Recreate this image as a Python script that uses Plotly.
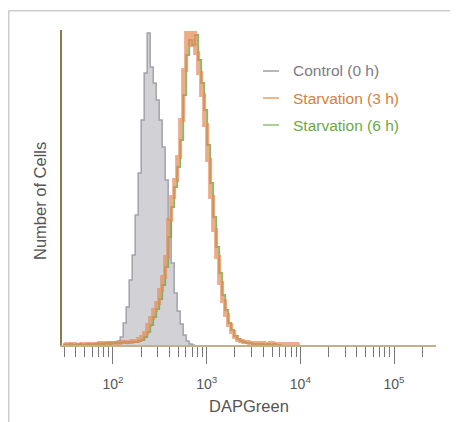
import plotly.graph_objects as go

# Histogram channel grid (log10 DAPGreen intensity): left edge and channel width
BIN_START_LOG = 1.469
BIN_WIDTH_LOG = 0.032

# Cell counts per channel
control_0h = [1, 0, 1, 0, 1, 1, 0, 1, 1, 1, 1, 2, 2, 2, 2, 3, 3, 3, 4, 8,
              22, 38, 65, 90, 130, 172, 225, 272, 312, 278, 262, 245, 225, 198, 165, 125, 82, 52, 34, 21,
              10, 4, 1, 0]

starv_3h = [0, 1, 0, 1, 0, 0, 1, 0, 1, 1, 0, 1, 2, 2, 2, 1, 2, 2, 2, 3,
            3, 3, 3, 4, 4, 6, 8, 12, 20, 27, 35, 42, 55, 68, 88, 125, 148, 165, 188, 225,
            275, 312, 300, 312, 292, 272, 250, 220, 185, 148, 115, 88, 62, 44, 30, 20, 13, 8, 5, 4,
            3, 3, 2, 2, 2, 1, 2, 1, 1, 2, 1, 1, 1, 0, 1, 0, 1, 1, 0]

starv_6h = [0, 0, 1, 0, 0, 1, 0, 0, 1, 0, 1, 1, 1, 1, 2, 1, 2, 2, 2, 2,
            3, 2, 3, 3, 3, 4, 5, 8, 13, 20, 28, 36, 46, 60, 78, 108, 138, 158, 178, 205,
            250, 290, 305, 300, 310, 285, 262, 235, 200, 162, 128, 98, 72, 50, 35, 22, 15, 9, 6, 4,
            3, 2, 2, 1, 1, 1, 1, 0, 1, 0, 1, 0, 0]

series_names = ["Control (0 h)", "Starvation (3 h)", "Starvation (6 h)"]
tick_values = [1e2, 1e3, 1e4, 1e5]
tick_labels = ["10<sup>2</sup>", "10<sup>3</sup>", "10<sup>4</sup>", "10<sup>5</sup>"]

GRAY_LINE = "#a2a2aa"
GRAY_FILL = "#d2d2d6"
ORANGE = "rgba(232,138,88,0.72)"
GREEN = "rgba(112,172,82,0.85)"


def step_xy(counts):
    xs, ys = [], []
    for i, c in enumerate(counts):
        xs.append(10 ** (BIN_START_LOG + i * BIN_WIDTH_LOG))
        ys.append(c)
    xs.append(10 ** (BIN_START_LOG + len(counts) * BIN_WIDTH_LOG))
    ys.append(0)
    return xs, ys


fig = go.Figure()

x, y = step_xy(control_0h)
fig.add_trace(go.Scatter(x=x, y=y, mode="lines", line=dict(shape="hv", color=GRAY_LINE, width=1.5),
                         fill="tozeroy", fillcolor=GRAY_FILL, name=series_names[0], showlegend=False))
x, y = step_xy(starv_6h)
fig.add_trace(go.Scatter(x=x, y=y, mode="lines", line=dict(shape="hv", color=GREEN, width=2),
                         name=series_names[2], showlegend=False))
x, y = step_xy(starv_3h)
fig.add_trace(go.Scatter(x=x, y=y, mode="lines", line=dict(shape="hv", color=ORANGE, width=4),
                         name=series_names[1], showlegend=False))

FONT = "Liberation Sans, Arial, sans-serif"

# the page body adds an 8px offset; lay out in target coordinates and shift
OFF = 8
W, H = 458 - OFF, 422 - OFF
L, R, T, B = 62 - OFF, 22, 30 - OFF, 422 - 345
pw, ph = W - L - R, H - T - B


def px(xp):
    return (xp - OFF - L) / pw


def py(yp):
    return (H - B - (yp - OFF)) / ph


# legend entries: short line + coloured text
leg_colors = ["#7c7c84", "#d4803c", "#6aa846"]
leg_rows = [71, 98, 125]
for name, col, yy in zip(series_names, leg_colors, leg_rows):
    fig.add_shape(type="line", xref="paper", yref="paper", x0=px(263), x1=px(279), y0=py(yy), y1=py(yy),
                  line=dict(color=col, width=1.1))
    fig.add_annotation(xref="paper", yref="paper", x=px(291), y=py(yy), xanchor="left", yanchor="middle",
                       text=name, showarrow=False, font=dict(family=FONT, size=15.5, color=col))

# y-axis title
fig.add_annotation(xref="paper", yref="paper", x=px(40), y=py(201), xanchor="center", yanchor="middle",
                   text="Number of Cells", textangle=-90, showarrow=False,
                   font=dict(family=FONT, size=16.5, color="#555555"))

frame = dict(type="line", xref="paper", yref="paper", line=dict(color="#cccccc", width=1.5))
fig.add_shape(**frame, x0=px(8.75), x1=px(470), y0=py(10.75), y1=py(10.75))
fig.add_shape(**frame, x0=px(8.75), x1=px(8.75), y0=py(10.75), y1=py(440))

fig.update_layout(
    width=W, height=H,
    margin=dict(l=L, r=R, t=T, b=B, autoexpand=False),
    paper_bgcolor="white", plot_bgcolor="white",
    font=dict(family=FONT, color="#555555"),
    showlegend=False,
)
fig.update_xaxes(
    type="log", range=[1.4557, 5.448], automargin=False,
    tickmode="array", tickvals=tick_values, ticktext=tick_labels,
    ticks="outside", ticklen=17, tickcolor="#777777", tickwidth=1,
    minor=dict(ticks="outside", ticklen=10, dtick="D1", tickcolor="#777777", tickwidth=1, showgrid=False),
    showgrid=False, zeroline=False,
    showline=True, linecolor="#c2b088", linewidth=2,
    tickfont=dict(size=14, color="#555555"),
    ticklabelstandoff=8,
    title=dict(text="DAPGreen", font=dict(size=16.5, color="#555555"), standoff=10),
)
fig.update_yaxes(
    range=[0, 315], automargin=False, showticklabels=False, ticks="", showgrid=False, zeroline=False,
    showline=True, linecolor="#8c7b4f", linewidth=2,
)

fig.write_html("out.html")
